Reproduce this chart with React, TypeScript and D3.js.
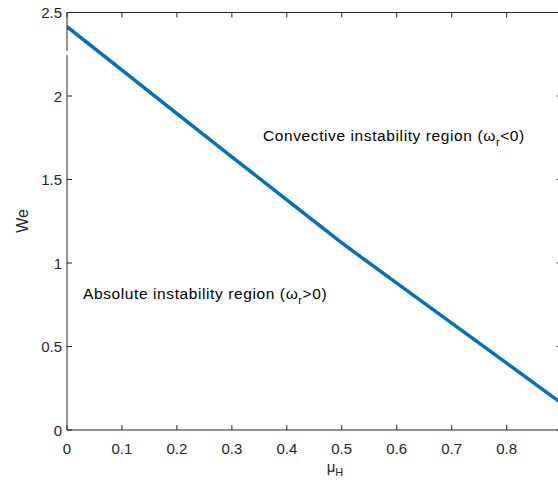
import React from "react";
import * as d3 from "d3";

const muH = [0, 0.1, 0.2, 0.3, 0.4, 0.5, 0.6, 0.7, 0.8, 0.9];
const We = [2.415, 2.155, 1.895, 1.636, 1.378, 1.12, 0.88, 0.64, 0.4, 0.16];
const xTicks = [0, 0.1, 0.2, 0.3, 0.4, 0.5, 0.6, 0.7, 0.8];
const yTicks = [0, 0.5, 1, 1.5, 2, 2.5];
const xTickLabels = ["0", "0.1", "0.2", "0.3", "0.4", "0.5", "0.6", "0.7", "0.8"];
const yTickLabels = ["0", "0.5", "1", "1.5", "2", "2.5"];

export default function App() {
  const W = 558, H = 494;
  const left = 67, right = 561.6, top = 12.5, bottom = 430;
  const x = d3.scaleLinear().domain([0, 0.9]).range([left, right]);
  const y = d3.scaleLinear().domain([0, 2.5]).range([bottom, top]);
  const line = d3.line<number>().x((_, i) => x(muH[i])).y((d) => y(d));
  const axisColor = "#262626";
  const font = "Liberation Sans, Arial, Helvetica, sans-serif";
  const tl = 5;
  return (
    <svg width={W} height={H} style={{ position: "absolute", left: 0, top: 0, background: "#fff" }}>
      <rect x={0} y={0} width={W} height={H} fill="#fff" />
      <defs>
        <clipPath id="plot">
          <rect x={left} y={top} width={right - left} height={bottom - top} />
        </clipPath>
      </defs>
      <path d={line(We) || ""} fill="none" stroke="#0072BD" strokeWidth={3.5} clipPath="url(#plot)" />
      <line x1={left} x2={right} y1={top} y2={top} stroke={axisColor} strokeWidth={1} />
      <line x1={left} x2={right} y1={bottom} y2={bottom} stroke={axisColor} strokeWidth={1} />
      <line x1={left} x2={left} y1={top} y2={bottom} stroke={axisColor} strokeWidth={1} />
      <line x1={right} x2={right} y1={top} y2={bottom} stroke={axisColor} strokeWidth={1} />
      {xTicks.map((t, i) => (
        <g key={"x" + i}>
          <line x1={x(t)} x2={x(t)} y1={bottom} y2={bottom - tl} stroke={axisColor} />
          <line x1={x(t)} x2={x(t)} y1={top} y2={top + tl} stroke={axisColor} />
          <text x={x(t)} y={bottom + 24} textAnchor="middle" fontFamily={font} fontSize={15} fill="#262626">
            {xTickLabels[i]}
          </text>
        </g>
      ))}
      {yTicks.map((t, i) => (
        <g key={"y" + i}>
          <line x1={left} x2={left + tl} y1={y(t)} y2={y(t)} stroke={axisColor} />
          <line x1={right} x2={right - tl} y1={y(t)} y2={y(t)} stroke={axisColor} />
          <text x={left - 5} y={y(t) + 5.5} textAnchor="end" fontFamily={font} fontSize={15} fill="#262626">
            {yTickLabels[i]}
          </text>
        </g>
      ))}
      <rect x={left - 1.5} y={51} width={3} height={4} fill="#fff" />
      <text
        transform={`translate(28,221) rotate(-90)`}
        textAnchor="middle"
        fontFamily={font}
        fontSize={16}
        fill="#262626"
      >
        We
      </text>
      <text x={335} y={472} textAnchor="middle" fontFamily={font} fontSize={15} fill="#262626">
        μ
        <tspan fontSize={11} dy={4}>H</tspan>
      </text>
      <text x={263} y={141} fontFamily={font} fontSize={15.5} letterSpacing={0.6} fill="#000">
        Convective instability region (ω
        <tspan fontSize={11} dy={5}>r</tspan>
        <tspan dy={-5}>&lt;0)</tspan>
      </text>
      <text x={83} y={298.5} fontFamily={font} fontSize={15.5} letterSpacing={0.6} fill="#000">
        Absolute instability region (ω
        <tspan fontSize={11} dy={5}>r</tspan>
        <tspan dy={-5}>&gt;0)</tspan>
      </text>
    </svg>
  );
}
